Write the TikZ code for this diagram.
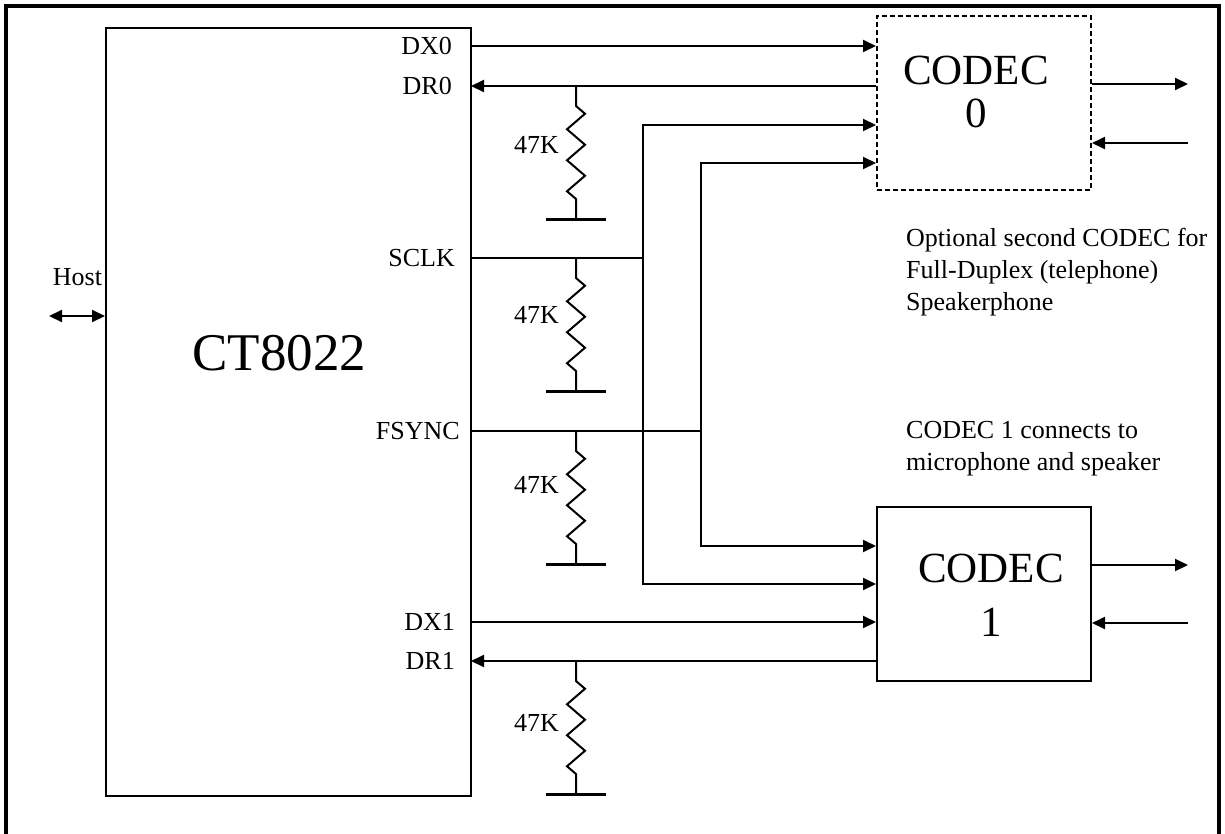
\documentclass[tikz,border=0pt]{standalone}
\usepackage{fontspec}
\setmainfont{Liberation Serif}
\usetikzlibrary{arrows.meta,positioning}

\tikzset{
	sig/.style={line width=2pt},
	sigarrow/.style={sig, -{Triangle[length=13pt,width=12pt]}},
	codecbox/.style={draw, line width=2pt, minimum width=214pt, minimum height=174pt, inner sep=0pt},
	pinlabel/.style={anchor=east, inner sep=0pt, font=\fontsize{26}{30}\selectfont},
	reslabel/.style={anchor=east, inner sep=0pt, font=\fontsize{26}{30}\selectfont},
	note/.style={anchor=west, inner sep=0pt, align=left, font=\fontsize{26}{32}\selectfont},
	bigtext/.style={inner sep=0pt, align=center}
}

\begin{document}
\begin{tikzpicture}[x=1pt, y=-1pt]
\useasboundingbox (0,0) rectangle (1225,833);
\draw[line width=4.5pt] (6,840) -- (6,6) -- (1219,6) -- (1219,840);

% chip
\node[draw, line width=2pt, minimum width=365pt, minimum height=768pt, inner sep=0pt] (ct) at (288.5,412) {};
\node[bigtext, font=\fontsize{53}{60}\selectfont] (cttext) at (279.5,353) {CT8022};

% codecs
\node[codecbox, dashed, dash pattern=on 5pt off 3pt] (codec0) at (984,103) {};
\node[bigtext, font=\fontsize{43}{43}\selectfont] (codec0text) at (976,92) {CODEC\\0};
\node[codecbox] (codec1) at (984,594) {};
\node[bigtext, font=\fontsize{43}{54}\selectfont] (codec1text) at (991,595) {CODEC\\1};

% pins
\coordinate (dx0) at (471,46);
\coordinate (dr0) at (471,86);
\coordinate (sclk) at (471,258);
\coordinate (fsync) at (471,431);
\coordinate (dx1) at (471,622);
\coordinate (dr1) at (471,661);
\node[pinlabel] (dx0label) at (452,46) {DX0};
\node[pinlabel] (dr0label) at (452,86) {DR0};
\node[pinlabel] (sclklabel) at (455,258) {SCLK};
\node[pinlabel] (fsynclabel) at (460,431) {FSYNC};
\node[pinlabel] (dx1label) at (455,622) {DX1};
\node[pinlabel] (dr1label) at (455,661) {DR1};

% host
\coordinate (host) at (49,316);
\node[inner sep=0pt, font=\fontsize{26}{30}\selectfont] (hostlabel) at (77.5,277) {Host};
\draw[sig, {Triangle[length=13pt,width=12pt]}-{Triangle[length=13pt,width=12pt]}] (host) -- (host -| ct.west);

% data lines
\draw[sigarrow] (dx0) -- (dx0 -| codec0.west);
\draw[sigarrow] (dr0 -| codec0.west) -- (dr0);
\draw[sigarrow] (dx1) -- (dx1 -| codec1.west);
\draw[sigarrow] (dr1 -| codec1.west) -- (dr1);

% clock and sync buses
\coordinate (sclkbus) at (643,258);
\coordinate (fsbus) at (701,431);
\coordinate (c0sclk) at ([yshift=-22pt]codec0.west);
\coordinate (c0fs) at ([yshift=-60pt]codec0.west);
\coordinate (c1sclk) at ([yshift=10pt]codec1.west);
\coordinate (c1fs) at ([yshift=48pt]codec1.west);
\draw[sig] (sclk) -- (sclkbus);
\draw[sig] (fsync) -- (fsbus);
\draw[sigarrow] (sclkbus) |- (c0sclk);
\draw[sigarrow] (sclkbus) |- (c1sclk);
\draw[sigarrow] (fsbus) |- (c0fs);
\draw[sigarrow] (fsbus) |- (c1fs);

% codec outside lines
\coordinate (out0) at (1188,84);
\coordinate (in0) at (1188,143);
\coordinate (out1) at (1188,565);
\coordinate (in1) at (1188,623);
\draw[sigarrow] (out0 -| codec0.east) -- (out0);
\draw[sigarrow] (in0) -- (in0 -| codec0.east);
\draw[sigarrow] (out1 -| codec1.east) -- (out1);
\draw[sigarrow] (in1) -- (in1 -| codec1.east);

% pull-down resistors
\coordinate (rcol) at (576,0);
\foreach \p/\ly in {dr0/145, sclk/315, fsync/485, dr1/723} {
	\draw[sig] (rcol |- \p) -- ++(0,20) -- ++(9,7.75) -- ++(-18,15.5) -- ++(18,15.5) -- ++(-18,15.5) -- ++(18,15.5) -- ++(-18,15.5) -- ++(9,7.75) -- ++(0,20) coordinate (gnd-\p);
	\draw[line width=3pt] ([xshift=-30pt]gnd-\p) -- ([xshift=30pt]gnd-\p);
	\node[reslabel] (res-\p) at (559,\ly) {47K};
}

% notes
\node[note] (note0) at (906,272) {Optional second CODEC for\\Full-Duplex (telephone)\\Speakerphone};
\node[note] (note1) at (906,449) {CODEC 1 connects to\\microphone and speaker};
\end{tikzpicture}
\end{document}
